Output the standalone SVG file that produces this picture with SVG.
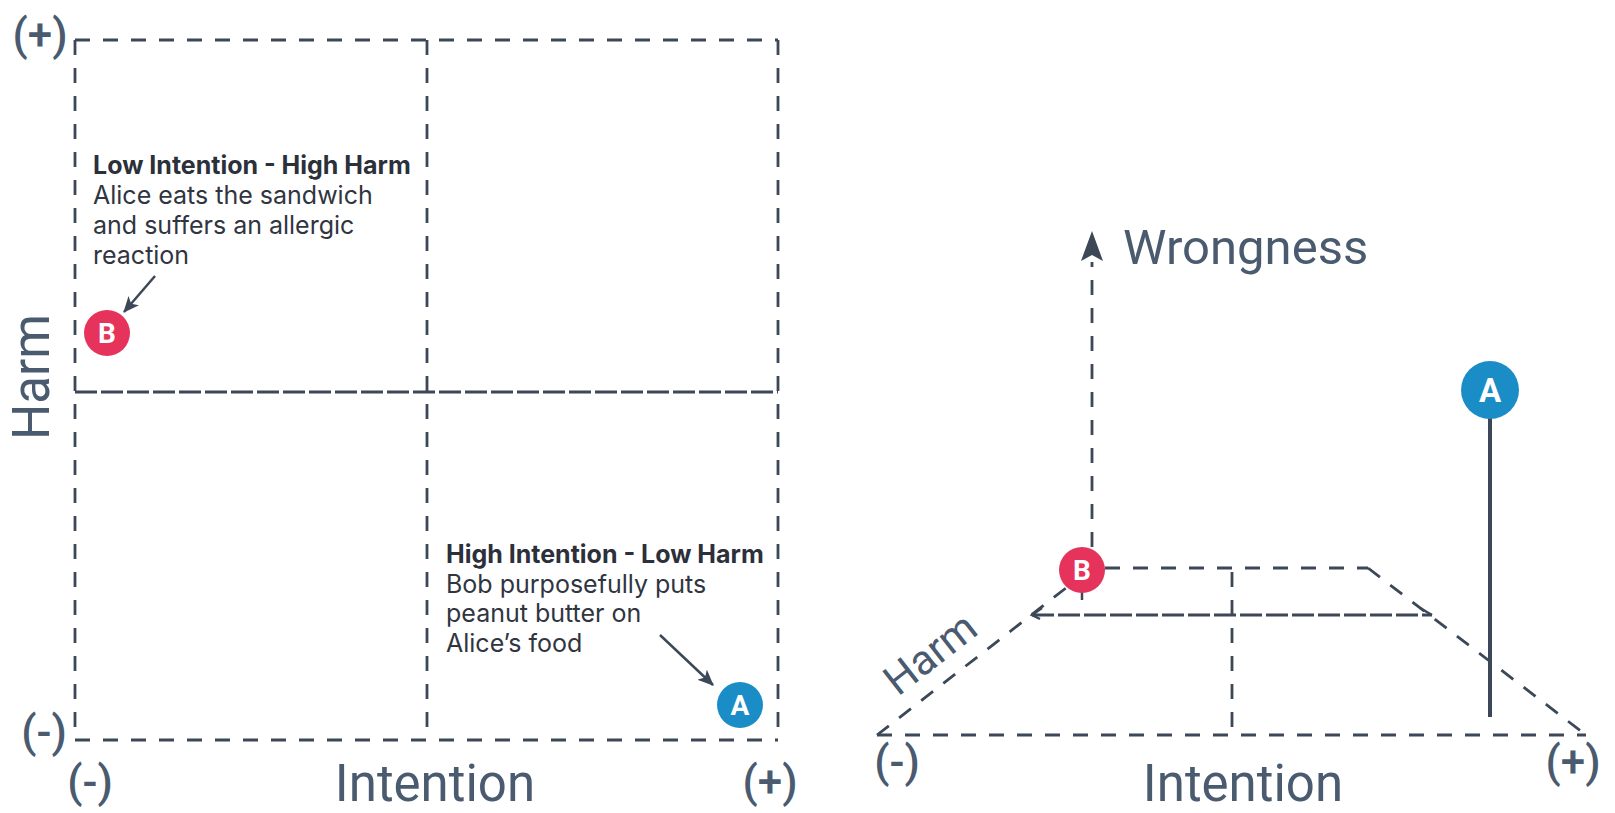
<svg xmlns="http://www.w3.org/2000/svg" width="1615" height="813" viewBox="0 0 1615 813">
<defs>
<marker id="ah" viewBox="0 0 16 14" refX="15" refY="7" markerWidth="16" markerHeight="14" markerUnits="userSpaceOnUse" orient="auto">
<path d="M0,0 L16,7 L0,14 L4,7 Z" fill="#3c4757"/>
</marker>
</defs>
<style>
.dash{fill:none;stroke:#3c4757;stroke-width:2.8;stroke-dasharray:15 13}
.dense{fill:none;stroke:#3c4757;stroke-width:2.8;stroke-dasharray:22 4}
.solid{fill:none;stroke:#3c4757;stroke-width:2.5}
.ax{font-family:Roboto,"Liberation Sans",sans-serif;fill:#4a5b70;text-anchor:middle}
.sign{font-family:Roboto,"Liberation Sans",sans-serif;fill:#4a5b70;font-size:44px;font-weight:500;text-anchor:middle}
.big{font-size:51px}
.desc{font-family:Inter,"Liberation Sans",sans-serif;font-size:25px;fill:#30353f}
.hd{font-weight:700;fill:#2b303a}
.lt{font-family:Roboto,"Liberation Sans",sans-serif;font-weight:700;fill:#fff;text-anchor:middle}
.red{fill:#e5335c}
.blue{fill:#1a8dc7}
</style>
<g id="connectors">
<line class="dash" x1="75" y1="40" x2="778" y2="40"/>
<line class="dash" x1="75" y1="40" x2="75" y2="740"/>
<line class="dash" x1="778" y1="40" x2="778" y2="740"/>
<line class="dash" x1="75" y1="740" x2="778" y2="740"/>
<line class="dash" x1="427" y1="40" x2="427" y2="740"/>
<line class="dense" x1="75" y1="392" x2="778" y2="392"/>
<line class="solid" x1="155" y1="276" x2="124" y2="312" marker-end="url(#ah)"/>
<line class="solid" x1="660" y1="635" x2="713" y2="685" marker-end="url(#ah)"/>
<line class="dash" x1="877" y1="735" x2="1586" y2="735"/>
<line class="dash" x1="877" y1="735" x2="1066" y2="588"/>
<line class="dash" x1="1105" y1="568" x2="1368" y2="568"/>
<line class="dash" x1="1368" y1="568" x2="1586" y2="735"/>
<line class="dash" x1="1232" y1="572" x2="1232" y2="735"/>
<line class="dense" x1="1032" y1="615" x2="1432" y2="615"/>
<path class="solid" d="M1042,608 L1032,615 L1040,619 M1420,608 L1432,615"/>
<line class="dash" x1="1092" y1="547" x2="1092" y2="262"/>
<polygon points="1092,231 1103,261 1092,255 1081,261" fill="#3c4757"/>
<line class="solid" x1="1082" y1="592" x2="1082" y2="600"/>
<line x1="1490" y1="418" x2="1490" y2="717" stroke="#3c4757" stroke-width="4"/>
</g>
<g id="labels">
<text class="sign" x="40" y="50">(+)</text>
<text class="sign" x="44" y="747">(-)</text>
<text class="sign" x="90" y="797">(-)</text>
<text class="sign" x="770" y="797">(+)</text>
<text class="ax big" x="435" y="801">Intention</text>
<text class="ax big" transform="translate(49,377) rotate(-90)">Harm</text>
<text class="sign" x="897" y="777">(-)</text>
<text class="sign" x="1573" y="777">(+)</text>
<text class="ax big" x="1243" y="801">Intention</text>
<text class="ax" x="1123" y="264" font-size="49" style="text-anchor:start">Wrongness</text>
<text class="ax" font-size="42" transform="translate(939,665) rotate(-38)">Harm</text>
</g>
<g id="note-b">
<text class="desc hd" x="93" y="174">Low Intention - High Harm</text>
<text class="desc" x="93" y="204">Alice eats the sandwich</text>
<text class="desc" x="93" y="234">and suffers an allergic</text>
<text class="desc" x="93" y="264">reaction</text>
</g>
<g id="note-a">
<text class="desc hd" x="446" y="563">High Intention - Low Harm</text>
<text class="desc" x="446" y="593">Bob purposefully puts</text>
<text class="desc" x="446" y="622">peanut butter on</text>
<text class="desc" x="446" y="652">Alice’s food</text>
</g>
<g id="node-b-left">
<circle class="red" cx="107" cy="333" r="23"/>
<text class="lt" x="107" y="343" font-size="28">B</text>
</g>
<g id="node-a-left">
<circle class="blue" cx="740" cy="705" r="23"/>
<text class="lt" x="740" y="715" font-size="28">A</text>
</g>
<g id="node-b-right">
<circle class="red" cx="1082" cy="570" r="23"/>
<text class="lt" x="1082" y="580" font-size="28">B</text>
</g>
<g id="node-a-right">
<circle class="blue" cx="1490" cy="390" r="29"/>
<text class="lt" x="1490" y="402" font-size="33">A</text>
</g>
</svg>
